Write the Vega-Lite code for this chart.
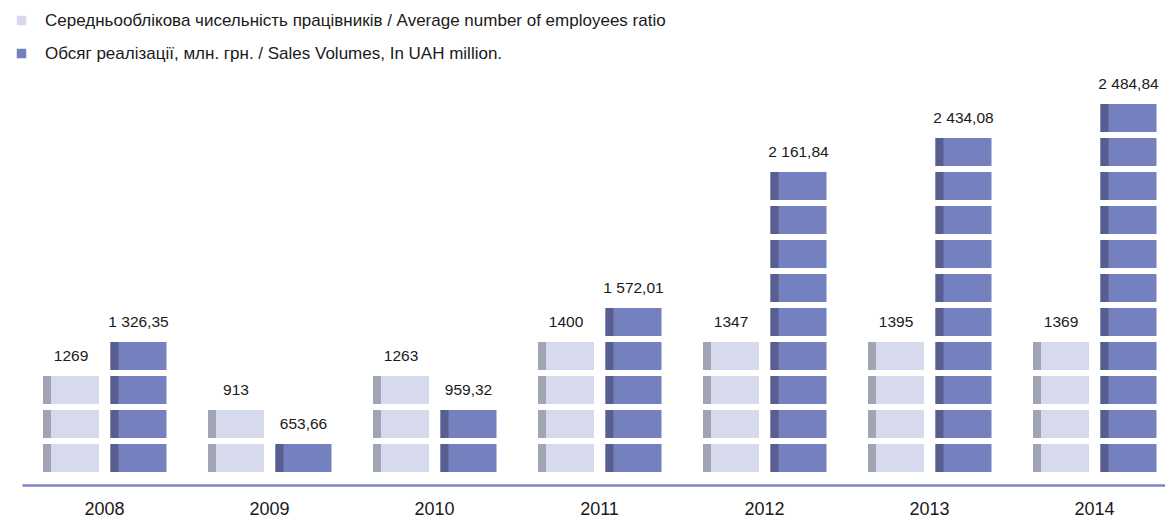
{
  "$schema": "https://vega.github.io/schema/vega-lite/v6.json",
  "width": 1145,
  "height": 428,
  "autosize": {"type": "none"},
  "padding": {"left": 20, "top": 57, "right": 0, "bottom": 35},
  "background": "white",
  "config": {
    "view": {"stroke": null},
    "font": "Liberation Sans",
    "text": {"font": "Liberation Sans"}
  },
  "data": {
    "values": [
      {"year": "2008", "series": "Середньооблікова чисельність працівників / Average number of employees ratio", "block": 1},
      {"year": "2008", "series": "Середньооблікова чисельність працівників / Average number of employees ratio", "block": 2},
      {"year": "2008", "series": "Середньооблікова чисельність працівників / Average number of employees ratio", "block": 3},
      {"year": "2009", "series": "Середньооблікова чисельність працівників / Average number of employees ratio", "block": 1},
      {"year": "2009", "series": "Середньооблікова чисельність працівників / Average number of employees ratio", "block": 2},
      {"year": "2010", "series": "Середньооблікова чисельність працівників / Average number of employees ratio", "block": 1},
      {"year": "2010", "series": "Середньооблікова чисельність працівників / Average number of employees ratio", "block": 2},
      {"year": "2010", "series": "Середньооблікова чисельність працівників / Average number of employees ratio", "block": 3},
      {"year": "2011", "series": "Середньооблікова чисельність працівників / Average number of employees ratio", "block": 1},
      {"year": "2011", "series": "Середньооблікова чисельність працівників / Average number of employees ratio", "block": 2},
      {"year": "2011", "series": "Середньооблікова чисельність працівників / Average number of employees ratio", "block": 3},
      {"year": "2011", "series": "Середньооблікова чисельність працівників / Average number of employees ratio", "block": 4},
      {"year": "2012", "series": "Середньооблікова чисельність працівників / Average number of employees ratio", "block": 1},
      {"year": "2012", "series": "Середньооблікова чисельність працівників / Average number of employees ratio", "block": 2},
      {"year": "2012", "series": "Середньооблікова чисельність працівників / Average number of employees ratio", "block": 3},
      {"year": "2012", "series": "Середньооблікова чисельність працівників / Average number of employees ratio", "block": 4},
      {"year": "2013", "series": "Середньооблікова чисельність працівників / Average number of employees ratio", "block": 1},
      {"year": "2013", "series": "Середньооблікова чисельність працівників / Average number of employees ratio", "block": 2},
      {"year": "2013", "series": "Середньооблікова чисельність працівників / Average number of employees ratio", "block": 3},
      {"year": "2013", "series": "Середньооблікова чисельність працівників / Average number of employees ratio", "block": 4},
      {"year": "2014", "series": "Середньооблікова чисельність працівників / Average number of employees ratio", "block": 1},
      {"year": "2014", "series": "Середньооблікова чисельність працівників / Average number of employees ratio", "block": 2},
      {"year": "2014", "series": "Середньооблікова чисельність працівників / Average number of employees ratio", "block": 3},
      {"year": "2014", "series": "Середньооблікова чисельність працівників / Average number of employees ratio", "block": 4},
      {"year": "2008", "series": "Обсяг реалізації, млн. грн. / Sales Volumes, In UAH million.", "block": 1},
      {"year": "2008", "series": "Обсяг реалізації, млн. грн. / Sales Volumes, In UAH million.", "block": 2},
      {"year": "2008", "series": "Обсяг реалізації, млн. грн. / Sales Volumes, In UAH million.", "block": 3},
      {"year": "2008", "series": "Обсяг реалізації, млн. грн. / Sales Volumes, In UAH million.", "block": 4},
      {"year": "2009", "series": "Обсяг реалізації, млн. грн. / Sales Volumes, In UAH million.", "block": 1},
      {"year": "2010", "series": "Обсяг реалізації, млн. грн. / Sales Volumes, In UAH million.", "block": 1},
      {"year": "2010", "series": "Обсяг реалізації, млн. грн. / Sales Volumes, In UAH million.", "block": 2},
      {"year": "2011", "series": "Обсяг реалізації, млн. грн. / Sales Volumes, In UAH million.", "block": 1},
      {"year": "2011", "series": "Обсяг реалізації, млн. грн. / Sales Volumes, In UAH million.", "block": 2},
      {"year": "2011", "series": "Обсяг реалізації, млн. грн. / Sales Volumes, In UAH million.", "block": 3},
      {"year": "2011", "series": "Обсяг реалізації, млн. грн. / Sales Volumes, In UAH million.", "block": 4},
      {"year": "2011", "series": "Обсяг реалізації, млн. грн. / Sales Volumes, In UAH million.", "block": 5},
      {"year": "2012", "series": "Обсяг реалізації, млн. грн. / Sales Volumes, In UAH million.", "block": 1},
      {"year": "2012", "series": "Обсяг реалізації, млн. грн. / Sales Volumes, In UAH million.", "block": 2},
      {"year": "2012", "series": "Обсяг реалізації, млн. грн. / Sales Volumes, In UAH million.", "block": 3},
      {"year": "2012", "series": "Обсяг реалізації, млн. грн. / Sales Volumes, In UAH million.", "block": 4},
      {"year": "2012", "series": "Обсяг реалізації, млн. грн. / Sales Volumes, In UAH million.", "block": 5},
      {"year": "2012", "series": "Обсяг реалізації, млн. грн. / Sales Volumes, In UAH million.", "block": 6},
      {"year": "2012", "series": "Обсяг реалізації, млн. грн. / Sales Volumes, In UAH million.", "block": 7},
      {"year": "2012", "series": "Обсяг реалізації, млн. грн. / Sales Volumes, In UAH million.", "block": 8},
      {"year": "2012", "series": "Обсяг реалізації, млн. грн. / Sales Volumes, In UAH million.", "block": 9},
      {"year": "2013", "series": "Обсяг реалізації, млн. грн. / Sales Volumes, In UAH million.", "block": 1},
      {"year": "2013", "series": "Обсяг реалізації, млн. грн. / Sales Volumes, In UAH million.", "block": 2},
      {"year": "2013", "series": "Обсяг реалізації, млн. грн. / Sales Volumes, In UAH million.", "block": 3},
      {"year": "2013", "series": "Обсяг реалізації, млн. грн. / Sales Volumes, In UAH million.", "block": 4},
      {"year": "2013", "series": "Обсяг реалізації, млн. грн. / Sales Volumes, In UAH million.", "block": 5},
      {"year": "2013", "series": "Обсяг реалізації, млн. грн. / Sales Volumes, In UAH million.", "block": 6},
      {"year": "2013", "series": "Обсяг реалізації, млн. грн. / Sales Volumes, In UAH million.", "block": 7},
      {"year": "2013", "series": "Обсяг реалізації, млн. грн. / Sales Volumes, In UAH million.", "block": 8},
      {"year": "2013", "series": "Обсяг реалізації, млн. грн. / Sales Volumes, In UAH million.", "block": 9},
      {"year": "2013", "series": "Обсяг реалізації, млн. грн. / Sales Volumes, In UAH million.", "block": 10},
      {"year": "2014", "series": "Обсяг реалізації, млн. грн. / Sales Volumes, In UAH million.", "block": 1},
      {"year": "2014", "series": "Обсяг реалізації, млн. грн. / Sales Volumes, In UAH million.", "block": 2},
      {"year": "2014", "series": "Обсяг реалізації, млн. грн. / Sales Volumes, In UAH million.", "block": 3},
      {"year": "2014", "series": "Обсяг реалізації, млн. грн. / Sales Volumes, In UAH million.", "block": 4},
      {"year": "2014", "series": "Обсяг реалізації, млн. грн. / Sales Volumes, In UAH million.", "block": 5},
      {"year": "2014", "series": "Обсяг реалізації, млн. грн. / Sales Volumes, In UAH million.", "block": 6},
      {"year": "2014", "series": "Обсяг реалізації, млн. грн. / Sales Volumes, In UAH million.", "block": 7},
      {"year": "2014", "series": "Обсяг реалізації, млн. грн. / Sales Volumes, In UAH million.", "block": 8},
      {"year": "2014", "series": "Обсяг реалізації, млн. грн. / Sales Volumes, In UAH million.", "block": 9},
      {"year": "2014", "series": "Обсяг реалізації, млн. грн. / Sales Volumes, In UAH million.", "block": 10},
      {"year": "2014", "series": "Обсяг реалізації, млн. грн. / Sales Volumes, In UAH million.", "block": 11}
    ]
  },
  "encoding": {
    "x": {
      "field": "year",
      "type": "nominal",
      "scale": {"range": [2, 1157], "paddingInner": 0, "paddingOuter": 0},
      "axis": {
        "title": null,
        "ticks": false,
        "labelAngle": 0,
        "labelFontSize": 18,
        "labelColor": "#1a1a1a",
        "labelPadding": 15,
        "domainColor": "#7b85c4",
        "domainWidth": 2.5,
        "grid": false
      }
    }
  },
  "resolve": {"scale": {"xOffset": "independent"}},
  "layer": [
    {
      "mark": {"type": "bar"},
      "encoding": {
        "xOffset": {
          "field": "series",
          "type": "nominal",
          "sort": null,
          "scale": {"range": [21, 144.5], "paddingInner": 0.17, "paddingOuter": 0}
        },
        "y": {
          "field": "block",
          "type": "ordinal",
          "scale": {"domain": [12, 11, 10, 9, 8, 7, 6, 5, 4, 3, 2, 1], "paddingInner": 0.176, "paddingOuter": 0.382},
          "axis": null
        },
        "color": {
          "field": "series",
          "type": "nominal",
          "sort": null,
          "scale": {"range": ["#d7daec", "#7580be"]},
          "legend": {
            "title": null,
            "orient": "none",
            "legendX": -7,
            "legendY": -45,
            "symbolType": "square",
            "symbolSize": 90,
            "symbolStrokeWidth": 0,
            "labelFontSize": 17,
            "labelColor": "#1a1a1a",
            "labelOffset": 15,
            "rowPadding": 15,
            "labelLimit": 900,
            "padding": 0
          }
        }
      }
    },
    {
      "mark": {"type": "bar", "width": 8},
      "encoding": {
        "xOffset": {
          "field": "series",
          "type": "nominal",
          "sort": null,
          "scale": {"range": [-3, 120.5], "paddingInner": 0.17, "paddingOuter": 0}
        },
        "y": {"field": "block", "type": "ordinal"},
        "fill": {
          "field": "series",
          "type": "nominal",
          "sort": null,
          "scale": {"range": ["#a1a4b3", "#585e8f"]},
          "legend": null
        }
      }
    },
    {
      "data": {
        "values": [
          {"year": "2008", "series": "Середньооблікова чисельність працівників / Average number of employees ratio", "blocks": 3, "label": "1269"},
          {"year": "2009", "series": "Середньооблікова чисельність працівників / Average number of employees ratio", "blocks": 2, "label": "913"},
          {"year": "2010", "series": "Середньооблікова чисельність працівників / Average number of employees ratio", "blocks": 3, "label": "1263"},
          {"year": "2011", "series": "Середньооблікова чисельність працівників / Average number of employees ratio", "blocks": 4, "label": "1400"},
          {"year": "2012", "series": "Середньооблікова чисельність працівників / Average number of employees ratio", "blocks": 4, "label": "1347"},
          {"year": "2013", "series": "Середньооблікова чисельність працівників / Average number of employees ratio", "blocks": 4, "label": "1395"},
          {"year": "2014", "series": "Середньооблікова чисельність працівників / Average number of employees ratio", "blocks": 4, "label": "1369"},
          {"year": "2008", "series": "Обсяг реалізації, млн. грн. / Sales Volumes, In UAH million.", "blocks": 4, "label": "1 326,35"},
          {"year": "2009", "series": "Обсяг реалізації, млн. грн. / Sales Volumes, In UAH million.", "blocks": 1, "label": "653,66"},
          {"year": "2010", "series": "Обсяг реалізації, млн. грн. / Sales Volumes, In UAH million.", "blocks": 2, "label": "959,32"},
          {"year": "2011", "series": "Обсяг реалізації, млн. грн. / Sales Volumes, In UAH million.", "blocks": 5, "label": "1 572,01"},
          {"year": "2012", "series": "Обсяг реалізації, млн. грн. / Sales Volumes, In UAH million.", "blocks": 9, "label": "2 161,84"},
          {"year": "2013", "series": "Обсяг реалізації, млн. грн. / Sales Volumes, In UAH million.", "blocks": 10, "label": "2 434,08"},
          {"year": "2014", "series": "Обсяг реалізації, млн. грн. / Sales Volumes, In UAH million.", "blocks": 11, "label": "2 484,84"}
        ]
      },
      "mark": {"type": "text", "fontSize": 15.5, "color": "#1a1a1a", "yOffset": -34, "baseline": "middle", "align": "center"},
      "encoding": {
        "xOffset": {
          "field": "series",
          "type": "nominal",
          "sort": null,
          "scale": {"type": "point", "range": [49, 116.5], "padding": 0}
        },
        "y": {"field": "blocks", "type": "ordinal"},
        "text": {"field": "label"}
      }
    }
  ]
}
